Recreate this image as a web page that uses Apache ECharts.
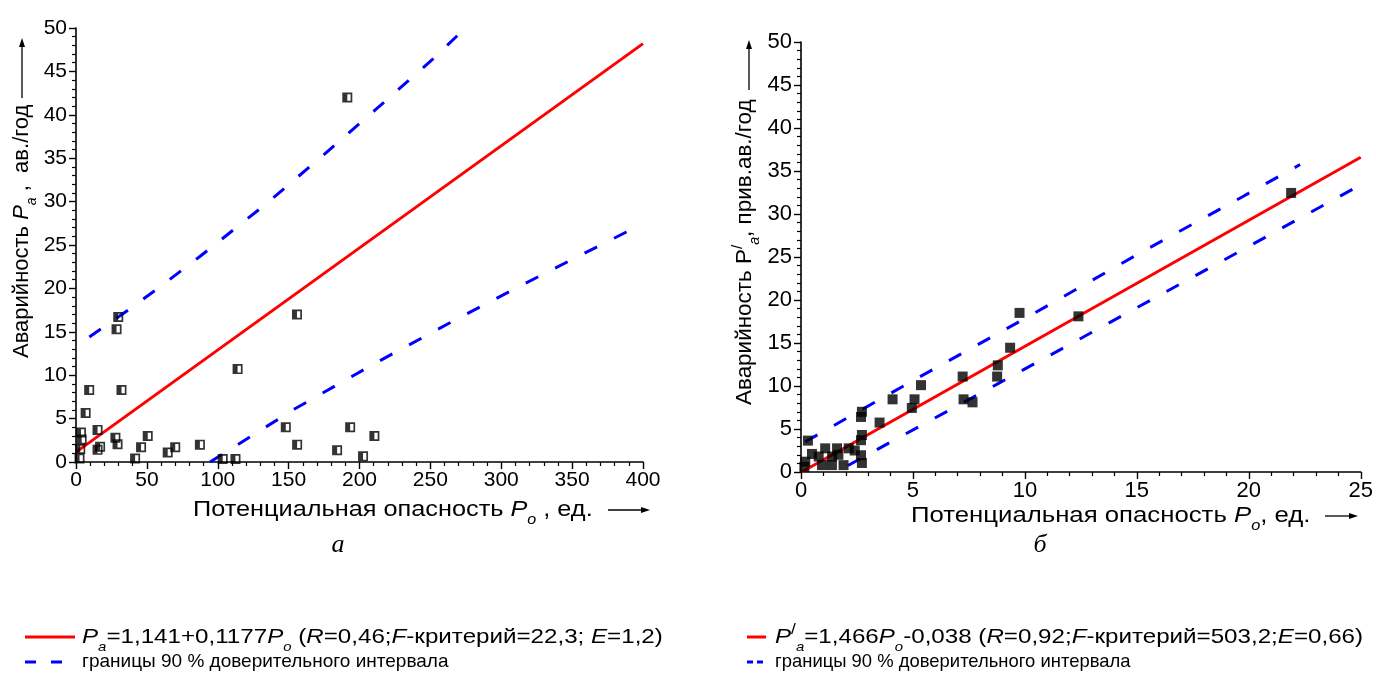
<!DOCTYPE html>
<html>
<head>
<meta charset="utf-8">
<title>Аварийность и потенциальная опасность</title>
<script src="https://cdn.jsdelivr.net/npm/echarts@6.0.0/dist/echarts.min.js"></script>
<style>
html,body{margin:0;padding:0;background:#fff;}
#chart{width:1376px;height:679px;}
</style>
</head>
<body>
<div id="chart"></div>
<script>
// ---- рис. а : исходные точки (Po, Pa) ----
var leftPo = [3.5, 4, 3, 2.5, 6.8, 9.3, 15.2, 15.2, 17, 27.8, 28.6, 29.3, 29.8, 32.1, 41.7, 45.9, 50.6,
              64.7, 70, 87.4, 103.5, 112.5, 114, 148, 155.9, 156, 184.2, 191.4, 193.4, 202.5, 210.5];
var leftPa = [3.4, 2.6, 1.5, 0.4, 5.65, 8.3, 3.7, 1.4, 1.75, 2.8, 15.3, 2.05, 16.7, 8.3, 0.4, 1.7, 3.0,
              1.1, 1.7, 2.0, 0.35, 0.35, 10.7, 4.0, 17.0, 2.0, 1.35, 42.0, 4.0, 0.65, 3.0];
// линия регрессии и границы 90 % интервала
var leftFitX = [0, 400];
var leftFitY = [1.14, 48.2];
var leftUpX = [9.4, 37.1, 56.6, 87.6, 134.6, 173.4, 212.1, 251.3, 270.8];
var leftUpY = [14.4, 17.55, 19.85, 23.7, 29.8, 35.2, 40.7, 46.35, 49.4];
var leftLoX = [94.6, 106.4, 154.1, 212.1, 270.8, 329.1, 388.3, 400];
var leftLoY = [0, 1.22, 6.1, 11.47, 16.66, 21.6, 26.5, 27.3];
var leftXTicks = [0, 50, 100, 150, 200, 250, 300, 350, 400];
var leftYTicks = [0, 5, 10, 15, 20, 25, 30, 35, 40, 45, 50];

// ---- рис. б ----
var rightPo = [21.89, 12.39, 9.76, 9.34, 8.79, 8.76, 7.22, 7.26, 7.66, 5.36, 5.07, 4.95, 4.09, 3.51, 2.72, 2.68,
               2.72, 2.68, 2.68, 2.72, 0.31, 0.49, 1.08, 1.61, 2.13, 2.4, 1.9, 0.19, 0.15, 0.79, 1.39, 1.38, 0.94, 1.67];
var rightPa = [32.45, 18.1, 18.5, 14.45, 12.4, 11.1, 11.1, 8.45, 8.1, 10.1, 8.45, 7.45, 8.45, 5.75, 7.0, 6.4,
               4.3, 3.7, 1.95, 1.05, 3.65, 2.1, 2.75, 2.75, 2.75, 2.5, 0.8, 1.2, 0.6, 1.8, 1.8, 0.8, 0.8, 2.0];
var rightFitX = [0.03, 25];
var rightFitY = [0, 36.6];
var rightUpX = [0.19, 5.1, 10.01, 15.15, 19.76, 22.29];
var rightUpY = [3.52, 10.77, 17.86, 25.48, 32.07, 35.75];
var rightLoX = [2.1, 4.58, 8.82, 12.47, 16.19, 19.83, 24.75];
var rightLoY = [0.75, 4.3, 10.3, 15.5, 20.8, 26.0, 33.04];
var rightXTicks = [0, 5, 10, 15, 20, 25];
var rightYTicks = [0, 5, 10, 15, 20, 25, 30, 35, 40, 45, 50];

var FONT = '"Liberation Sans", Arial, sans-serif';
// квадрат с залитой левой половиной
var HALF_SQ = 'path://M0,0L10,0L10,10L0,10Z M1.7,1.7L1.7,8.3L8.3,8.3L8.3,1.7Z M0,0L5,0L5,10L0,10Z';

function zip(xs, ys){
	return xs.map(function(x, i){ return [x, ys[i]]; });
}

function rs(size, italic, pad){
	var s = {fontFamily: FONT, fontSize: size, fill: '#000'};
	if (italic) s.fontStyle = 'italic';
	if (pad) s.padding = pad;
	return s;
}

function richSet(size){
	return {
		n: rs(size),
		i: rs(size, true),
		sub: rs(Math.round(size * 0.62), true, [Math.round(size * 0.95), 0, 0, 0]),
		sup: rs(Math.round(size * 0.7), false, [0, 0, Math.round(size * 0.7), 0])
	};
}

function makeAxis(ticks, grid, fs, isX){
	return {
		type: 'value', gridIndex: grid,
		min: ticks[0], max: ticks[ticks.length - 1], interval: ticks[1] - ticks[0],
		splitLine: {show: false},
		axisLine: {onZero: false, lineStyle: {color: '#000', width: 1.6}},
		axisTick: {length: 7, lineStyle: {color: '#000', width: 1.4}},
		minorTick: {show: true, splitNumber: 5, length: 4, lineStyle: {color: '#000', width: 1.2}},
		axisLabel: {color: '#000', fontSize: fs, fontFamily: FONT, margin: isX ? 8 : 9}
	};
}

function lineSeries(xs, ys, grid, color, dashed){
	return {
		type: 'line', xAxisIndex: grid, yAxisIndex: grid,
		data: zip(xs, ys), symbol: 'none', silent: true, z: 2,
		lineStyle: {color: color, width: 3, type: dashed ? [14, 19] : 'solid'}
	};
}

function arrowH(x1, x2, y){
	return [
		{type: 'line', shape: {x1: x1, y1: y, x2: x2 - 7, y2: y}, style: {stroke: '#000', lineWidth: 1.3}},
		{type: 'polygon', shape: {points: [[x2, y], [x2 - 9, y - 3], [x2 - 9, y + 3]]}, style: {fill: '#000'}}
	];
}
function arrowV(x, y1, y2){
	return [
		{type: 'line', shape: {x1: x, y1: y1, x2: x, y2: y2 + 7}, style: {stroke: '#000', lineWidth: 1.3}},
		{type: 'polygon', shape: {points: [[x, y2], [x - 3, y2 + 9], [x + 3, y2 + 9]]}, style: {fill: '#000'}}
	];
}

// текст с индексами; sx - растяжение вдоль строки
function txt(x, y, text, size, sx, rotate){
	var el = {
		type: 'text', x: x, y: y, scaleX: sx || 1,
		style: {text: text, rich: richSet(size), fontFamily: FONT, fontSize: size, fill: '#000',
			align: 'left', verticalAlign: 'middle'}
	};
	if (rotate) el.rotation = Math.PI / 2;
	return el;
}

var chart = echarts.init(document.getElementById('chart'));

var graphic = [].concat(
	// подписи осей
	txt(193, 510, '{n|Потенциальная опасность }{i|P}{sub|o}{n| , ед.}', 22, 1.15),
	arrowH(608, 650, 510),
	txt(22, 358, '{n|Аварийность }{i|P}{sub|a}{n| ,  ав./год}', 22, 1, true),
	arrowV(22, 98, 38),
	txt(745, 405, '{n|Аварийность P}{sup|/}{sub|a}{n|, прив.ав./год}', 22, 1.02, true),
	arrowV(749, 90, 40),
	txt(911, 516, '{n|Потенциальная опасность }{i|P}{sub|o}{n|, ед.}', 22, 1.17),
	arrowH(1325, 1358, 516),
	// буквы рисунков
	{type: 'text', x: 338, y: 545, style: {text: 'а', fontFamily: '"Liberation Serif", serif', fontStyle: 'italic', fontSize: 26, fill: '#000', align: 'center', verticalAlign: 'middle'}},
	{type: 'text', x: 1040, y: 545, style: {text: 'б', fontFamily: '"Liberation Serif", serif', fontStyle: 'italic', fontSize: 26, fill: '#000', align: 'center', verticalAlign: 'middle'}},
	// легенда а
	{type: 'line', shape: {x1: 25, y1: 637, x2: 75, y2: 637}, style: {stroke: '#ff0000', lineWidth: 3}},
	txt(82, 637, '{i|P}{sub|a}{n|=1,141+0,1177}{i|P}{sub|o}{n| (}{i|R}{n|=0,46;}{i|F}{n|-критерий=22,3; }{i|E}{n|=1,2)}', 21, 1.15),
	{type: 'line', shape: {x1: 25, y1: 662, x2: 36, y2: 662}, style: {stroke: '#0000ff', lineWidth: 3}},
	{type: 'line', shape: {x1: 51, y1: 662, x2: 62, y2: 662}, style: {stroke: '#0000ff', lineWidth: 3}},
	txt(82, 662, '{n|границы 90 % доверительного интервала}', 19, 1),
	// легенда б
	{type: 'line', shape: {x1: 747, y1: 637, x2: 766, y2: 637}, style: {stroke: '#ff0000', lineWidth: 3}},
	txt(775, 637, '{i|P}{sup|/}{sub|a}{n|=1,466}{i|P}{sub|o}{n|-0,038 (}{i|R}{n|=0,92;}{i|F}{n|-критерий=503,2;}{i|E}{n|=0,66)}', 21, 1.15),
	{type: 'line', shape: {x1: 747, y1: 662, x2: 753, y2: 662}, style: {stroke: '#0000ff', lineWidth: 3}},
	{type: 'line', shape: {x1: 757, y1: 662, x2: 763, y2: 662}, style: {stroke: '#0000ff', lineWidth: 3}},
	txt(775, 662, '{n|границы 90 % доверительного интервала}', 19, 0.97)
);

chart.setOption({
	animation: false,
	backgroundColor: '#fff',
	grid: [
		{left: 76, top: 28, width: 567, height: 434},
		{left: 801, top: 42, width: 560, height: 430}
	],
	xAxis: [makeAxis(leftXTicks, 0, 21, true), makeAxis(rightXTicks, 1, 22, true)],
	yAxis: [makeAxis(leftYTicks, 0, 21, false), makeAxis(rightYTicks, 1, 22, false)],
	series: [
		lineSeries(leftFitX, leftFitY, 0, '#ff0000', false),
		lineSeries(leftUpX, leftUpY, 0, '#0000ff', true),
		lineSeries(leftLoX, leftLoY, 0, '#0000ff', true),
		{type: 'scatter', xAxisIndex: 0, yAxisIndex: 0, data: zip(leftPo, leftPa),
			symbol: HALF_SQ, symbolSize: 10, itemStyle: {color: '#000'}, z: 5, silent: true},
		lineSeries(rightFitX, rightFitY, 1, '#ff0000', false),
		lineSeries(rightUpX, rightUpY, 1, '#0000ff', true),
		lineSeries(rightLoX, rightLoY, 1, '#0000ff', true),
		{type: 'scatter', xAxisIndex: 1, yAxisIndex: 1, data: zip(rightPo, rightPa),
			symbol: 'rect', symbolSize: 10, itemStyle: {color: '#000'}, z: 5, silent: true}
	],
	graphic: graphic
});
</script>
</body>
</html>
